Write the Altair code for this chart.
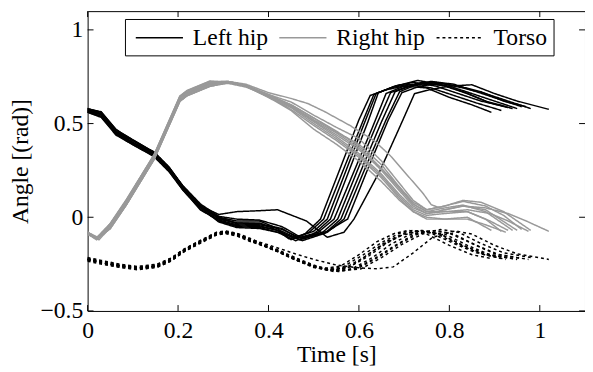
import altair as alt
import pandas as pd

SIGNALS = ["Left hip", "Right hip", "Torso"]
COLORS = ["#000000", "#999999", "#000000"]
DASHES = [[1, 0], [1, 0], [3, 3]]
X_TICKS = [0, 0.2, 0.4, 0.6, 0.8, 1]
Y_TICKS = [-0.5, 0, 0.5, 1]

# Each trial: list of (time [s], angle [rad])
LEFT_HIP = [
    [(0, 0.58), (0.03, 0.56), (0.063, 0.467), (0.10, 0.412), (0.147, 0.347), (0.18, 0.267), (0.21, 0.167), (0.25, 0.062), (0.29, -0.01), (0.33, -0.03), (0.38, -0.03), (0.42, -0.07), (0.445, -0.115), (0.48, -0.09), (0.515, -0.01), (0.56, 0.27), (0.60, 0.52), (0.625, 0.65), (0.66, 0.68), (0.70, 0.70), (0.75, 0.69), (0.80, 0.64), (0.85, 0.60), (0.893, 0.56)],
    [(0, 0.574), (0.03, 0.554), (0.063, 0.454), (0.10, 0.409), (0.147, 0.344), (0.18, 0.264), (0.21, 0.164), (0.25, 0.059), (0.29, 0.0), (0.33, -0.02), (0.38, -0.02), (0.42, -0.06), (0.45, -0.12), (0.49, -0.08), (0.522, -0.01), (0.57, 0.28), (0.61, 0.52), (0.633, 0.655), (0.67, 0.69), (0.71, 0.71), (0.76, 0.69), (0.81, 0.65), (0.86, 0.61), (0.915, 0.57)],
    [(0, 0.56), (0.03, 0.533), (0.063, 0.438), (0.10, 0.388), (0.147, 0.323), (0.18, 0.243), (0.21, 0.148), (0.25, 0.038), (0.29, -0.015), (0.33, -0.04), (0.38, -0.045), (0.42, -0.07), (0.455, -0.11), (0.50, -0.075), (0.53, -0.01), (0.57, 0.24), (0.61, 0.49), (0.638, 0.66), (0.68, 0.70), (0.72, 0.72), (0.77, 0.70), (0.82, 0.66), (0.87, 0.62), (0.925, 0.59)],
    [(0, 0.57), (0.03, 0.55), (0.063, 0.455), (0.10, 0.40), (0.147, 0.34), (0.18, 0.26), (0.21, 0.165), (0.25, 0.06), (0.29, -0.02), (0.33, -0.05), (0.38, -0.055), (0.42, -0.08), (0.46, -0.125), (0.50, -0.09), (0.537, -0.01), (0.58, 0.26), (0.62, 0.51), (0.643, 0.665), (0.68, 0.70), (0.73, 0.73), (0.78, 0.71), (0.83, 0.67), (0.88, 0.62), (0.94, 0.58)],
    [(0, 0.578), (0.03, 0.563), (0.063, 0.468), (0.10, 0.413), (0.147, 0.348), (0.18, 0.268), (0.21, 0.168), (0.25, 0.063), (0.29, -0.005), (0.33, -0.03), (0.38, -0.035), (0.43, -0.06), (0.465, -0.11), (0.51, -0.08), (0.545, -0.01), (0.59, 0.25), (0.63, 0.48), (0.66, 0.66), (0.70, 0.70), (0.74, 0.72), (0.79, 0.70), (0.84, 0.66), (0.89, 0.61), (0.93, 0.585)],
    [(0, 0.562), (0.03, 0.537), (0.063, 0.442), (0.10, 0.387), (0.147, 0.327), (0.18, 0.247), (0.21, 0.147), (0.25, 0.042), (0.29, -0.02), (0.33, -0.045), (0.38, -0.05), (0.43, -0.075), (0.47, -0.12), (0.52, -0.08), (0.553, -0.01), (0.60, 0.27), (0.64, 0.50), (0.67, 0.665), (0.71, 0.70), (0.75, 0.715), (0.80, 0.70), (0.85, 0.66), (0.90, 0.62), (0.95, 0.58)],
    [(0, 0.566), (0.03, 0.546), (0.063, 0.451), (0.10, 0.396), (0.147, 0.336), (0.18, 0.256), (0.21, 0.156), (0.25, 0.051), (0.29, -0.025), (0.33, -0.055), (0.38, -0.06), (0.43, -0.085), (0.475, -0.125), (0.525, -0.085), (0.56, -0.01), (0.61, 0.28), (0.65, 0.51), (0.68, 0.67), (0.72, 0.705), (0.76, 0.725), (0.81, 0.71), (0.86, 0.67), (0.91, 0.63), (0.96, 0.59)],
    [(0, 0.58), (0.03, 0.56), (0.063, 0.46), (0.10, 0.41), (0.147, 0.345), (0.18, 0.265), (0.21, 0.17), (0.25, 0.07), (0.29, 0.005), (0.33, -0.01), (0.38, -0.015), (0.43, -0.05), (0.477, -0.115), (0.53, -0.08), (0.567, -0.01), (0.61, 0.24), (0.66, 0.52), (0.69, 0.67), (0.73, 0.71), (0.77, 0.72), (0.82, 0.70), (0.87, 0.67), (0.92, 0.62), (0.97, 0.59)],
    [(0, 0.562), (0.03, 0.54), (0.063, 0.445), (0.10, 0.395), (0.147, 0.33), (0.18, 0.25), (0.21, 0.155), (0.25, 0.05), (0.29, 0.0), (0.33, -0.035), (0.38, -0.04), (0.43, -0.065), (0.47, -0.11), (0.53, -0.075), (0.575, -0.01), (0.62, 0.26), (0.665, 0.52), (0.695, 0.665), (0.735, 0.70), (0.78, 0.715), (0.83, 0.69), (0.88, 0.66), (0.93, 0.62), (0.98, 0.58)],
    [(0, 0.57), (0.03, 0.55), (0.063, 0.45), (0.10, 0.40), (0.147, 0.34), (0.18, 0.26), (0.21, 0.16), (0.25, 0.06), (0.29, 0.015), (0.33, 0.03), (0.38, 0.035), (0.42, 0.04), (0.484, -0.02), (0.53, -0.107), (0.567, -0.08), (0.589, -0.01), (0.647, 0.25), (0.69, 0.48), (0.723, 0.66), (0.756, 0.68), (0.80, 0.70), (0.85, 0.707), (0.90, 0.66), (0.95, 0.62), (1.02, 0.576)],
]

RIGHT_HIP = [
    [(0, -0.085), (0.02, -0.115), (0.05, -0.062), (0.085, 0.063), (0.147, 0.308), (0.204, 0.618), (0.22, 0.648), (0.27, 0.698), (0.31, 0.72), (0.35, 0.70), (0.40, 0.64), (0.45, 0.57), (0.50, 0.47), (0.55, 0.39), (0.60, 0.30), (0.65, 0.19), (0.69, 0.09), (0.72, 0.03), (0.75, 0.0), (0.79, -0.01), (0.84, 0.0), (0.893, -0.07)],
    [(0, -0.08), (0.02, -0.11), (0.05, -0.035), (0.085, 0.09), (0.147, 0.335), (0.204, 0.645), (0.22, 0.675), (0.27, 0.725), (0.31, 0.725), (0.35, 0.705), (0.40, 0.65), (0.45, 0.59), (0.50, 0.51), (0.55, 0.43), (0.60, 0.34), (0.65, 0.23), (0.69, 0.12), (0.72, 0.05), (0.75, 0.02), (0.79, 0.03), (0.84, 0.03), (0.88, -0.01), (0.915, -0.075)],
    [(0, -0.09), (0.025, -0.12), (0.05, -0.056), (0.085, 0.064), (0.147, 0.309), (0.204, 0.619), (0.22, 0.649), (0.27, 0.699), (0.31, 0.715), (0.35, 0.695), (0.40, 0.645), (0.45, 0.575), (0.50, 0.49), (0.55, 0.41), (0.60, 0.32), (0.65, 0.21), (0.69, 0.10), (0.72, 0.03), (0.75, -0.01), (0.79, -0.01), (0.84, -0.01), (0.88, -0.04), (0.925, -0.08)],
    [(0, -0.08), (0.02, -0.11), (0.05, -0.036), (0.085, 0.084), (0.147, 0.324), (0.204, 0.639), (0.22, 0.664), (0.27, 0.714), (0.31, 0.72), (0.35, 0.70), (0.40, 0.655), (0.45, 0.60), (0.50, 0.53), (0.55, 0.46), (0.60, 0.38), (0.65, 0.26), (0.69, 0.15), (0.72, 0.07), (0.75, 0.03), (0.79, 0.05), (0.83, 0.065), (0.88, 0.03), (0.94, -0.07)],
    [(0, -0.09), (0.02, -0.115), (0.05, -0.06), (0.085, 0.065), (0.147, 0.31), (0.204, 0.62), (0.22, 0.65), (0.27, 0.70), (0.31, 0.72), (0.35, 0.70), (0.40, 0.64), (0.45, 0.585), (0.50, 0.50), (0.55, 0.42), (0.60, 0.33), (0.65, 0.22), (0.69, 0.11), (0.72, 0.04), (0.75, 0.01), (0.79, 0.02), (0.84, 0.03), (0.89, -0.02), (0.93, -0.07)],
    [(0, -0.085), (0.02, -0.115), (0.05, -0.033), (0.085, 0.092), (0.147, 0.332), (0.204, 0.647), (0.22, 0.677), (0.27, 0.727), (0.31, 0.72), (0.35, 0.70), (0.40, 0.65), (0.45, 0.595), (0.50, 0.52), (0.55, 0.45), (0.60, 0.37), (0.65, 0.25), (0.69, 0.14), (0.72, 0.06), (0.75, 0.02), (0.79, 0.04), (0.83, 0.06), (0.88, 0.04), (0.95, -0.07)],
    [(0, -0.08), (0.025, -0.11), (0.05, -0.045), (0.085, 0.075), (0.147, 0.32), (0.204, 0.63), (0.22, 0.66), (0.27, 0.71), (0.31, 0.72), (0.35, 0.70), (0.40, 0.65), (0.45, 0.59), (0.50, 0.515), (0.55, 0.44), (0.60, 0.36), (0.65, 0.26), (0.69, 0.16), (0.72, 0.08), (0.75, 0.04), (0.79, 0.06), (0.83, 0.085), (0.88, 0.06), (0.92, 0.01), (0.96, -0.065)],
    [(0, -0.09), (0.02, -0.12), (0.05, -0.054), (0.085, 0.066), (0.147, 0.311), (0.204, 0.626), (0.22, 0.656), (0.27, 0.706), (0.31, 0.72), (0.35, 0.70), (0.40, 0.65), (0.45, 0.60), (0.50, 0.53), (0.55, 0.455), (0.60, 0.39), (0.65, 0.28), (0.69, 0.16), (0.72, 0.07), (0.75, 0.03), (0.79, 0.03), (0.84, 0.04), (0.89, 0.02), (0.93, -0.02), (0.975, -0.075)],
    [(0, -0.085), (0.02, -0.11), (0.05, -0.038), (0.085, 0.087), (0.147, 0.332), (0.204, 0.642), (0.22, 0.672), (0.27, 0.722), (0.31, 0.725), (0.35, 0.705), (0.40, 0.655), (0.45, 0.615), (0.50, 0.545), (0.55, 0.48), (0.60, 0.42), (0.65, 0.30), (0.69, 0.18), (0.72, 0.09), (0.75, 0.04), (0.79, 0.06), (0.83, 0.09), (0.87, 0.08), (0.92, 0.03), (0.98, -0.07)],
    [(0, -0.08), (0.02, -0.11), (0.05, -0.043), (0.085, 0.082), (0.147, 0.322), (0.204, 0.637), (0.22, 0.667), (0.27, 0.717), (0.31, 0.725), (0.35, 0.71), (0.40, 0.665), (0.45, 0.634), (0.487, 0.607), (0.524, 0.564), (0.58, 0.49), (0.633, 0.41), (0.669, 0.33), (0.705, 0.23), (0.741, 0.13), (0.76, 0.067), (0.79, 0.04), (0.83, 0.06), (0.88, 0.05), (0.93, 0.02), (0.97, -0.02), (1.02, -0.075)],
]

TORSO = [
    [(0, -0.225), (0.03, -0.24), (0.07, -0.26), (0.11, -0.272), (0.154, -0.26), (0.185, -0.225), (0.213, -0.178), (0.248, -0.133), (0.285, -0.088), (0.305, -0.08), (0.33, -0.092), (0.357, -0.12), (0.39, -0.15), (0.422, -0.18), (0.459, -0.225), (0.50, -0.26), (0.52, -0.275), (0.56, -0.26), (0.60, -0.20), (0.64, -0.13), (0.68, -0.085), (0.71, -0.07), (0.75, -0.09), (0.80, -0.15), (0.85, -0.20), (0.893, -0.22)],
    [(0, -0.215), (0.03, -0.23), (0.07, -0.25), (0.11, -0.263), (0.154, -0.25), (0.185, -0.217), (0.213, -0.17), (0.248, -0.125), (0.285, -0.08), (0.305, -0.073), (0.33, -0.085), (0.357, -0.11), (0.39, -0.145), (0.422, -0.175), (0.459, -0.215), (0.50, -0.255), (0.525, -0.275), (0.565, -0.265), (0.61, -0.20), (0.65, -0.135), (0.69, -0.085), (0.72, -0.07), (0.76, -0.085), (0.81, -0.14), (0.86, -0.19), (0.915, -0.22)],
    [(0, -0.235), (0.03, -0.25), (0.07, -0.267), (0.11, -0.28), (0.154, -0.267), (0.185, -0.233), (0.213, -0.185), (0.248, -0.14), (0.285, -0.095), (0.305, -0.087), (0.33, -0.10), (0.357, -0.127), (0.39, -0.155), (0.422, -0.185), (0.459, -0.228), (0.50, -0.262), (0.53, -0.28), (0.57, -0.27), (0.61, -0.215), (0.65, -0.15), (0.69, -0.10), (0.73, -0.075), (0.77, -0.085), (0.82, -0.145), (0.87, -0.195), (0.925, -0.225)],
    [(0, -0.225), (0.03, -0.242), (0.07, -0.258), (0.11, -0.27), (0.154, -0.258), (0.185, -0.226), (0.213, -0.176), (0.248, -0.132), (0.285, -0.087), (0.305, -0.079), (0.33, -0.09), (0.357, -0.118), (0.39, -0.15), (0.422, -0.182), (0.459, -0.222), (0.50, -0.265), (0.535, -0.285), (0.575, -0.27), (0.62, -0.21), (0.66, -0.14), (0.70, -0.09), (0.735, -0.07), (0.78, -0.09), (0.83, -0.15), (0.88, -0.20), (0.94, -0.22)],
    [(0, -0.222), (0.03, -0.238), (0.07, -0.257), (0.11, -0.271), (0.154, -0.259), (0.185, -0.224), (0.213, -0.177), (0.248, -0.131), (0.285, -0.086), (0.305, -0.078), (0.33, -0.089), (0.357, -0.116), (0.39, -0.148), (0.422, -0.178), (0.459, -0.218), (0.50, -0.258), (0.54, -0.28), (0.58, -0.265), (0.62, -0.20), (0.66, -0.13), (0.70, -0.085), (0.74, -0.07), (0.78, -0.09), (0.83, -0.15), (0.88, -0.195), (0.93, -0.215)],
    [(0, -0.23), (0.03, -0.246), (0.07, -0.266), (0.11, -0.278), (0.154, -0.266), (0.185, -0.233), (0.213, -0.184), (0.248, -0.138), (0.285, -0.093), (0.305, -0.085), (0.33, -0.098), (0.357, -0.124), (0.39, -0.152), (0.422, -0.184), (0.459, -0.225), (0.50, -0.266), (0.545, -0.29), (0.585, -0.275), (0.63, -0.215), (0.67, -0.145), (0.71, -0.095), (0.75, -0.075), (0.79, -0.09), (0.84, -0.15), (0.89, -0.20), (0.95, -0.225)],
    [(0, -0.224), (0.03, -0.24), (0.07, -0.259), (0.11, -0.272), (0.154, -0.26), (0.185, -0.226), (0.213, -0.178), (0.248, -0.133), (0.285, -0.088), (0.305, -0.08), (0.33, -0.093), (0.357, -0.121), (0.39, -0.153), (0.422, -0.186), (0.459, -0.227), (0.50, -0.268), (0.55, -0.285), (0.59, -0.275), (0.635, -0.22), (0.68, -0.15), (0.72, -0.095), (0.76, -0.07), (0.80, -0.085), (0.85, -0.14), (0.90, -0.195), (0.96, -0.22)],
    [(0, -0.226), (0.03, -0.241), (0.07, -0.26), (0.11, -0.273), (0.154, -0.261), (0.185, -0.227), (0.213, -0.179), (0.248, -0.134), (0.285, -0.088), (0.305, -0.08), (0.33, -0.092), (0.357, -0.12), (0.39, -0.152), (0.422, -0.183), (0.459, -0.224), (0.50, -0.264), (0.555, -0.29), (0.60, -0.27), (0.645, -0.21), (0.69, -0.14), (0.73, -0.09), (0.77, -0.07), (0.81, -0.09), (0.86, -0.15), (0.91, -0.20), (0.975, -0.225)],
    [(0, -0.218), (0.03, -0.233), (0.07, -0.252), (0.11, -0.265), (0.154, -0.252), (0.185, -0.219), (0.213, -0.171), (0.248, -0.127), (0.285, -0.082), (0.305, -0.075), (0.33, -0.087), (0.357, -0.116), (0.39, -0.151), (0.422, -0.182), (0.459, -0.223), (0.50, -0.262), (0.56, -0.285), (0.605, -0.275), (0.65, -0.215), (0.695, -0.145), (0.74, -0.09), (0.78, -0.065), (0.82, -0.08), (0.87, -0.14), (0.92, -0.19), (0.98, -0.215)],
    [(0, -0.225), (0.03, -0.24), (0.07, -0.258), (0.11, -0.271), (0.154, -0.259), (0.185, -0.225), (0.213, -0.177), (0.248, -0.132), (0.285, -0.087), (0.305, -0.079), (0.33, -0.09), (0.357, -0.115), (0.39, -0.14), (0.422, -0.165), (0.459, -0.195), (0.50, -0.225), (0.55, -0.255), (0.60, -0.27), (0.64, -0.275), (0.676, -0.265), (0.72, -0.19), (0.763, -0.107), (0.813, -0.073), (0.85, -0.09), (0.90, -0.15), (0.95, -0.195), (1.02, -0.225)],
]

rows = []
for name, trials in zip(SIGNALS, [LEFT_HIP, RIGHT_HIP, TORSO]):
    for k, trial in enumerate(trials):
        for i, (t, v) in enumerate(trial):
            rows.append({"t": t, "v": v, "signal": name, "trial": f"{name}-{k}", "i": i})
df = pd.DataFrame(rows)

W, H = 506, 305
FONT = "Liberation Serif"
TL = 6

xscale = alt.Scale(domain=[0, 1.1], nice=False, zero=False)
yscale = alt.Scale(domain=[-0.5, 1.1], nice=False, zero=False)

XAXIS = alt.Axis(values=X_TICKS, format="~g", title="Time [s]")
YAXIS = alt.Axis(values=Y_TICKS, format="~g", title="Angle [(rad)]")

legend = alt.Legend(
    orient="none", legendX=38, legendY=8, direction="horizontal", title=None,
    symbolType="M-0.667,0H3.333", symbolSize=576, symbolStrokeWidth=1.5,
    labelFont=FONT, labelFontSize=24, labelColor="black", labelOffset=37,
    columnPadding=6, padding=6, fillColor="white", strokeColor="black",
    labelLimit=0,
)

lines = alt.Chart(df).mark_line(strokeWidth=1.5).encode(
    x=alt.X("t:Q", scale=xscale, axis=XAXIS),
    y=alt.Y("v:Q", scale=yscale, axis=YAXIS),
    color=alt.Color("signal:N", scale=alt.Scale(domain=SIGNALS, range=COLORS), legend=legend),
    strokeDash=alt.StrokeDash("signal:N", scale=alt.Scale(domain=SIGNALS, range=DASHES), legend=legend),
    detail="trial:N",
    order="i:Q",
)

xt = pd.DataFrame({"t": X_TICKS})
yt = pd.DataFrame({"v": Y_TICKS})
tick_x_bottom = alt.Chart(xt).mark_rule(color="black", strokeWidth=1).encode(
    x=alt.X("t:Q", scale=xscale, axis=XAXIS), y=alt.value(H), y2=alt.value(H - TL))
tick_x_top = alt.Chart(xt).mark_rule(color="black", strokeWidth=1).encode(
    x=alt.X("t:Q", scale=xscale, axis=XAXIS), y=alt.value(0), y2=alt.value(TL))
tick_y_left = alt.Chart(yt).mark_rule(color="black", strokeWidth=1).encode(
    y=alt.Y("v:Q", scale=yscale, axis=YAXIS), x=alt.value(0), x2=alt.value(TL))
tick_y_right = alt.Chart(yt).mark_rule(color="black", strokeWidth=1).encode(
    y=alt.Y("v:Q", scale=yscale, axis=YAXIS), x=alt.value(W - TL), x2=alt.value(W))

chart = alt.layer(lines, tick_x_bottom, tick_x_top, tick_y_left, tick_y_right).properties(
    width=W, height=H,
    autosize=alt.AutoSizeParams(type="none"),
    padding={"left": 81, "top": 0, "right": 0, "bottom": 64},
    background="white",
).configure_view(
    stroke="black", strokeWidth=1
).configure_axis(
    ticks=False, domain=False, grid=False, labelFlush=False,
    labelFont=FONT, labelFontSize=24, labelColor="black",
    titleFont=FONT, titleFontSize=24, titleFontWeight="normal", titleColor="black",
).configure_axisX(
    labelPadding=8, titlePadding=0
).configure_axisY(
    labelPadding=5, titlePadding=8
)

chart.save("out.html", embed_options={"renderer": "svg", "actions": False})
